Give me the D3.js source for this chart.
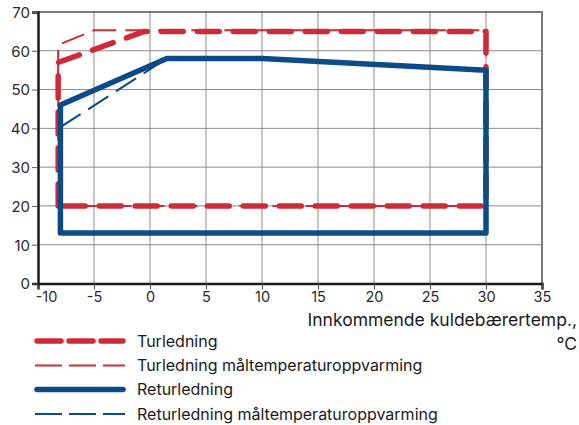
<!DOCTYPE html>
<html><head><meta charset="utf-8">
<script src="https://cdn.jsdelivr.net/npm/d3@7"></script>
<style>
html,body{margin:0;padding:0;background:#fff;}
svg{display:block;font-family:Inter, "Noto Sans", sans-serif;}
</style></head>
<body><svg id="c" width="579" height="425"></svg>
<script>
const xTicks = [-10,-5,0,5,10,15,20,25,30,35];
const yTicks = [0,10,20,30,40,50,60,70];
const xTickLabels = ["-10","-5","0","5","10","15","20","25","30","35"];

// Turledning (flow line) envelope
const turX = [-8.2,-8.2,-0.5,30,30,-8.2];
const turY = [20,57,65,65,20,20];
// Turledning måltemperaturoppvarming
const turMaalX = [-8.2,-8.2,-5,30,30,-8.2];
const turMaalY = [20,61.5,65.3,65.3,20,20];
// Returledning
const retX = [-8,-8,1.5,10,30,30,-8];
const retY = [13,46,58,58,55,13,13];
// Returledning måltemperaturoppvarming
const retMaalX = [-8,1.5];
const retMaalY = [40.3,58];

const legendLabels = ["Turledning","Turledning måltemperaturoppvarming","Returledning","Returledning måltemperaturoppvarming"];
const xTitle1 = "Innkommende kuldebærertemp.,";
const xTitle2 = "°C";

const red = "#cf2a38", blue = "#0b4b87";
const svg = d3.select("#c");
const L=38, R=542, T=12, B=283.5;
const x = d3.scaleLinear().domain([-10,35]).range([L,R]);
const y = d3.scaleLinear().domain([0,70]).range([B,T]);

// grid
svg.append("g").selectAll("line").data(xTicks.filter(d=>d>-10&&d<35)).join("line")
  .attr("x1",d=>x(d)).attr("x2",d=>x(d)).attr("y1",y(70)).attr("y2",y(0))
  .attr("stroke","#8a8a8a").attr("stroke-width",1);
svg.append("g").selectAll("line").data(yTicks.filter(d=>d>0&&d<70)).join("line")
  .attr("y1",d=>y(d)).attr("y2",d=>y(d)).attr("x1",x(-10)).attr("x2",x(35))
  .attr("stroke","#8a8a8a").attr("stroke-width",1);
// top & right border
svg.append("path").attr("d",`M${x(-10)},${y(70)}H${x(35)}V${y(0)}`)
  .attr("fill","none").attr("stroke","#7a7a7a").attr("stroke-width",2);

// axes
const xa = svg.append("g").attr("transform",`translate(0,${B})`)
  .call(d3.axisBottom(x).tickValues(xTicks).tickFormat((d,i)=>xTickLabels[i]).tickSize(6).tickPadding(2));
const ya = svg.append("g").attr("transform",`translate(${L},0)`)
  .call(d3.axisLeft(y).tickValues(yTicks).tickSize(6).tickPadding(2));
[xa,ya].forEach(g=>{
  g.select(".domain").attr("stroke","#1a1a1a").attr("stroke-width",2.5);
  g.selectAll(".tick line").attr("stroke","#555").attr("stroke-width",1);
  g.selectAll(".tick text").attr("fill","#2a2a2a").style("font-size","15px").style("font-family","Inter, sans-serif");
});
xa.selectAll(".tick text").style("font-size","14.5px");
xa.selectAll(".tick text").filter((d,i)=>i===0).attr("dx",8);
ya.selectAll(".tick text").attr("dy","0.36em");

const line = d3.line().x(d=>x(d[0])).y(d=>y(d[1]));
const zip = (a,b)=>a.map((v,i)=>[v,b[i]]);

svg.append("path").datum(zip(turMaalX,turMaalY)).attr("d",line)
  .attr("fill","none").attr("stroke",red).attr("stroke-width",2).attr("stroke-dasharray","24,9");
svg.append("path").datum(zip(turX,turY)).attr("d",line)
  .attr("fill","none").attr("stroke",red).attr("stroke-width",5.5)
  .attr("stroke-linecap","round").attr("stroke-linejoin","round").attr("stroke-dasharray","22,14");
svg.append("path").datum(zip(retMaalX,retMaalY)).attr("d",line)
  .attr("fill","none").attr("stroke",blue).attr("stroke-width",2).attr("stroke-dasharray","24,9");
svg.append("path").datum(zip(retX,retY)).attr("d",line)
  .attr("fill","none").attr("stroke",blue).attr("stroke-width",5.5)
  .attr("stroke-linejoin","round").attr("stroke-linecap","round");

// axis title
svg.append("text").attr("x",577).attr("y",326).attr("text-anchor","end")
  .style("font-size","17.5px").attr("fill","#1a1a1a").text(xTitle1);
svg.append("text").attr("x",577).attr("y",350).attr("text-anchor","end")
  .style("font-size","17.5px").attr("fill","#1a1a1a").text(xTitle2);

// legend
const legY = [341,365.5,389.5,414];
const styles = [
  {c:red,w:5.5,dash:"24,8",cap:"round"},
  {c:red,w:2,dash:"27,7",cap:"butt"},
  {c:blue,w:5.5,dash:null,cap:"round"},
  {c:blue,w:2,dash:"27,7",cap:"butt"}
];
const lg = svg.append("g").selectAll("g").data(legendLabels).join("g")
  .attr("transform",(d,i)=>`translate(0,${legY[i]})`);
lg.append("line").attr("x1",(d,i)=>styles[i].cap==="round"?37:35).attr("x2",(d,i)=>styles[i].cap==="round"?123:125)
  .attr("stroke",(d,i)=>styles[i].c).attr("stroke-width",(d,i)=>styles[i].w)
  .attr("stroke-dasharray",(d,i)=>styles[i].dash).attr("stroke-linecap",(d,i)=>styles[i].cap);
lg.append("text").attr("x",137).attr("dy","0.35em").style("font-size","16px").attr("fill","#1a1a1a").text(d=>d);
</script></body></html>
